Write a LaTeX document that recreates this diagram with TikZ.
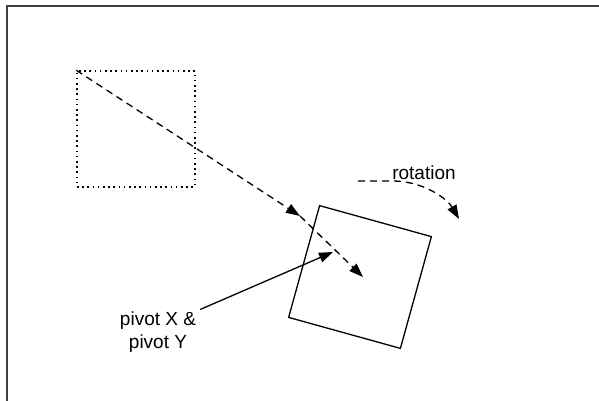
\documentclass[tikz,border=0pt]{standalone}
\usepackage{fontspec}
\setmainfont{Liberation Sans}
\usepackage{tikz}
\usetikzlibrary{arrows.meta,positioning}
\colorlet{rotframe}{black!75}
\tikzset{
  rotborder/.style={line width=2pt,rotframe},
  rotghost/.style={draw,line width=1.4pt,dash pattern=on 1.6pt off 3.6pt,
                   minimum width=118pt,minimum height=116pt,inner sep=0pt},
  rotbox/.style={draw,line width=1.3pt,minimum size=116pt,inner sep=0pt,
                 rotate=-15.5},
  rottip/.style={-{Triangle[length=14pt,width=10pt]}},
  rotmove/.style={rottip,line width=1.3pt,dash pattern=on 7pt off 5pt},
  rotpoint/.style={rottip,line width=1.3pt},
  rotlabel/.style={font=\fontsize{19}{23}\selectfont,align=center,inner sep=0pt}
}
\begin{document}
\begin{tikzpicture}[x=1pt,y=-1pt]
  \useasboundingbox (0,0) rectangle (599,401);
  \draw[rotborder] (7,401) -- (7,6.5) -- (599,6.5);

  \node[rotghost] (old) at (136,129) {};
  \node[rotbox] (new) at (360,277) {};

  \coordinate (corner) at (300,216);
  \coordinate (pivot) at (363,277);
  \coordinate (aim) at (333,252);
  \draw[rotmove] (old.north west) -- (corner);
  \draw[rotmove] (corner) -- (pivot);

  \node[rotlabel] (pivlab) at (158,332) {pivot X \&\\pivot Y};
  \draw[rotpoint] (pivlab.north east) ++(4,-2) coordinate (pivfrom) -- (aim);

  \node[rotlabel,anchor=base] (rotlab) at (424,179) {rotation};
  \coordinate (turnA) at (358,181);
  \coordinate (turnB) at (392,181);
  \coordinate (turnC) at (459,219);
  \draw[rotmove] (turnA) -- (turnB) .. controls (425,181) and (448,200) .. (turnC);
\end{tikzpicture}
\end{document}
